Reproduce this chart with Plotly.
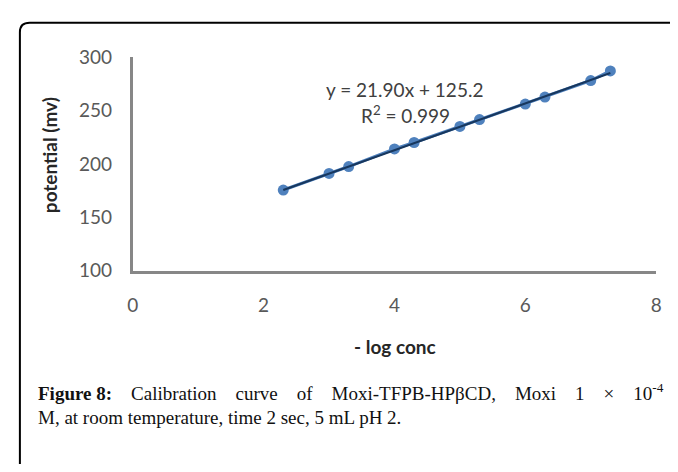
import plotly.graph_objects as go

# The page body keeps the browser's 8px margin, so the figure is sized to
# fill the 678x472 window exactly with that margin around it.
WIN_W, WIN_H, BODY = 678, 472, 8
W, H = WIN_W - 2 * BODY, WIN_H - 2 * BODY

# ---- data ----
neg_log_conc = [2.3, 3.0, 3.3, 4.0, 4.3, 5.0, 5.3, 6.0, 6.3, 7.0, 7.3]
potential_mv = [175.5, 191.0, 197.5, 214.0, 220.0, 235.0, 241.5, 256.0, 262.5, 278.0, 287.0]
slope, intercept = 21.90, 125.2
x_ticks = [0, 2, 4, 6, 8]
y_ticks = [100, 150, 200, 250, 300]
caption_words = ["Calibration", "curve", "of", "Moxi-TFPB-HPβCD,",
                 "Moxi", "1", "×", "10<sup>-4</sup>"]
caption_line2 = "M, at room temperature, time 2 sec, 5 mL pH 2."

def px(x):
    return (x - BODY) / W

def py(y):
    return 1 - (y - BODY) / H

trend_x = [min(neg_log_conc), max(neg_log_conc)]
trend_y = [slope * v + intercept for v in trend_x]

fig = go.Figure()
fig.add_trace(go.Scatter(
    x=neg_log_conc, y=potential_mv, mode="lines+markers",
    line=dict(color="#4F81BD", width=3),
    marker=dict(color="#4F81BD", size=11),
    showlegend=False, hoverinfo="x+y"))
fig.add_trace(go.Scatter(
    x=trend_x, y=trend_y, mode="lines",
    line=dict(color="#17375E", width=2),
    showlegend=False, hoverinfo="skip"))

SANS = "Lato, Open Sans, sans-serif"
SERIF = "Liberation Serif, serif"
tick_font = dict(family=SANS, size=19, color="#595959")

fig.update_layout(
    width=W, height=H,
    margin=dict(l=0, r=0, t=0, b=0),
    paper_bgcolor="white", plot_bgcolor="white",
    xaxis=dict(domain=[px(129), px(662)], range=[0, 8],
               tickvals=x_ticks, ticktext=[str(v) for v in x_ticks],
               showgrid=False, zeroline=False, showline=True,
               linecolor="#878787", linewidth=3, ticks="",
               tickfont=tick_font, ticklabelstandoff=16),
    yaxis=dict(domain=[py(272), py(47)], range=[100, 300],
               tickvals=y_ticks, ticktext=[str(v) for v in y_ticks],
               showgrid=False, zeroline=False, showline=True,
               linecolor="#878787", linewidth=3, ticks="",
               tickfont=tick_font, ticklabelstandoff=14),
)

gap = " &nbsp;&nbsp;&nbsp;"
line1 = "<b>Figure 8:</b>" + gap + gap.join(caption_words)

annotations = [
    dict(text="potential (mv)", x=px(45), y=py(150), textangle=-90,
         font=dict(family=SANS, size=19, color="#262626", weight="bold")),
    dict(text="- log conc", x=px(396), y=py(352),
         font=dict(family=SANS, size=19, color="#262626", weight="bold")),
    dict(text="y = 21.90x + 125.2", x=px(406), y=py(81),
         font=dict(family=SANS, size=19, color="#404040")),
    dict(text="R<sup>2</sup> = 0.999", x=px(407), y=py(107),
         font=dict(family=SANS, size=19, color="#404040")),
]
for a in annotations:
    a.update(xanchor="center")
annotations += [
    dict(text=line1, x=px(30), y=py(400), xanchor="left",
         font=dict(family=SERIF, size=19, color="#111111")),
    dict(text=caption_line2, x=px(30), y=py(427), xanchor="left",
         font=dict(family=SERIF, size=19, color="#111111")),
]
for a in annotations:
    a.update(xref="paper", yref="paper", showarrow=False, yanchor="middle")
fig.update_layout(annotations=annotations)

# rounded frame
r = 10
path = (f"M {px(14)},{py(480)} L {px(14)},{py(11 + r)} "
        f"Q {px(14)},{py(11)} {px(14 + r)},{py(11)} L {px(690)},{py(11)}")
fig.add_shape(type="path", path=path, xref="paper", yref="paper",
              line=dict(color="black", width=2))

fig.write_html("out.html", config={"displayModeBar": False})
